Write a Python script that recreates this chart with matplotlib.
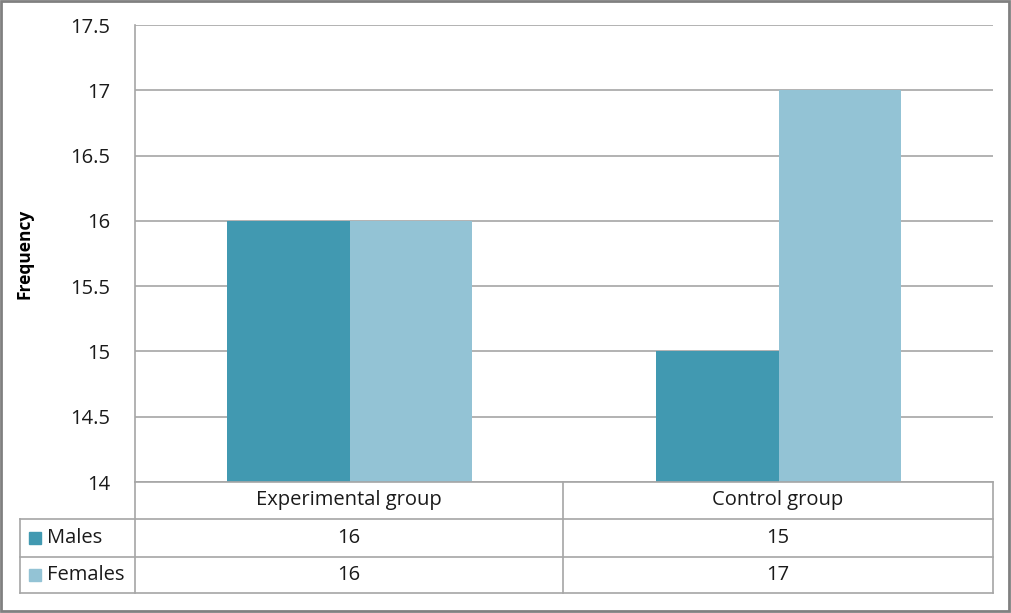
import matplotlib
matplotlib.use("Agg")
import matplotlib.pyplot as plt
from matplotlib.lines import Line2D
from matplotlib.patches import Rectangle
import numpy as np

plt.rcParams['font.family'] = ['Open Sans', 'DejaVu Sans']

categories = ["Experimental group", "Control group"]
series_names = ["Males", "Females"]
males = [16, 15]
females = [16, 17]
colors = ["#4199B1", "#93C3D5"]
yticks = [14, 14.5, 15, 15.5, 16, 16.5, 17, 17.5]
ytick_labels = ["14", "14.5", "15", "15.5", "16", "16.5", "17", "17.5"]

W, H = 1011, 613
fig = plt.figure(figsize=(W / 100, H / 100), dpi=100)

def fx(px):
    return px / W

def fy(py):
    return 1 - py / H

left, right, top, bottom = 135, 993, 25, 482
ax = fig.add_axes([fx(left), fy(bottom), fx(right) - fx(left), fy(top) - fy(bottom)])

x = np.arange(len(categories))
bw = 0.285
series = [males, females]
for i, (vals, c) in enumerate(zip(series, colors)):
    ax.bar(x + (i - 0.5) * bw, np.array(vals) - 14, bottom=14, width=bw, color=c, zorder=3)

ax.set_xlim(-0.5, len(categories) - 0.5)
ax.set_ylim(14, 17.5)
ax.set_yticks(yticks)
ax.set_yticklabels(ytick_labels, fontsize=14.5, color="#1a1a1a")
ax.set_xticks([])
ax.tick_params(axis='y', length=0, pad=18)
ax.grid(axis='y', color="#a6a6a6", linewidth=1.2, zorder=0)
for s in ["top", "right", "bottom"]:
    ax.spines[s].set_visible(False)
ax.spines["left"].set_color("#a6a6a6")
ax.spines["left"].set_linewidth(1.2)
ax.set_ylabel("Frequency", fontsize=12.5, fontweight="bold")
ax.yaxis.set_label_coords(-0.118, 0.5)

# data table
gc = "#a6a6a6"
lw = 1.2
row_y = [482, 519, 557, 593]
col_x = [20, 135, 563, 993]

def hline(py, x0, x1):
    fig.add_artist(Line2D([fx(x0), fx(x1)], [fy(py), fy(py)], color=gc, lw=lw))

def vline(px, y0, y1):
    fig.add_artist(Line2D([fx(px), fx(px)], [fy(y0), fy(y1)], color=gc, lw=lw))

hline(row_y[0], col_x[1], col_x[3])
for py in row_y[1:]:
    hline(py, col_x[0], col_x[3])
vline(col_x[0], row_y[1], row_y[3])
for px in col_x[1:]:
    vline(px, row_y[0], row_y[3])

tfs = 14.5
for j, cat in enumerate(categories):
    cx = (col_x[j + 1] + col_x[j + 2]) / 2
    fig.text(fx(cx), fy((row_y[0] + row_y[1]) / 2), cat, ha="center", va="center",
             fontsize=tfs, color="#1a1a1a")
    for i, vals in enumerate(series):
        fig.text(fx(cx), fy((row_y[i + 1] + row_y[i + 2]) / 2), str(vals[j]),
                 ha="center", va="center", fontsize=tfs, color="#1a1a1a")

for i, (name, c) in enumerate(zip(series_names, colors)):
    cy = (row_y[i + 1] + row_y[i + 2]) / 2
    fig.add_artist(Rectangle((fx(29), fy(cy + 6)), fx(12), fy(0) - fy(12), color=c,
                             transform=fig.transFigure))
    fig.text(fx(47), fy(cy), name, ha="left", va="center", fontsize=tfs, color="#1a1a1a")

# outer border
fig.add_artist(Rectangle((fx(1), fy(611)), fx(1008), fy(0) - fy(610), fill=False,
                         edgecolor="#808080", lw=2, transform=fig.transFigure))

fig.savefig("out.png", dpi=100)
